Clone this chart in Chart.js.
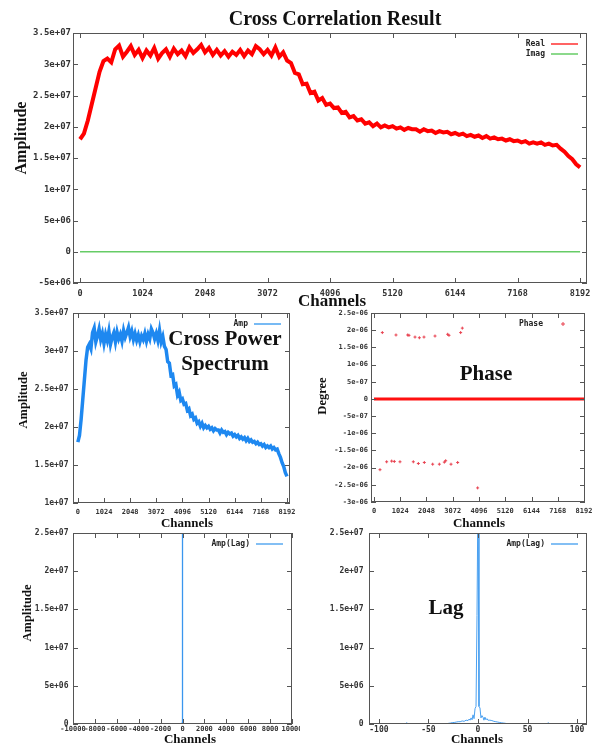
<!DOCTYPE html>
<html>
<head>
<meta charset="utf-8">
<title>Cross Correlation Result</title>
<script src="https://cdn.jsdelivr.net/npm/chart.js@4.4.1/dist/chart.umd.min.js"></script>
<style>
  body { margin: 0; width: 602px; height: 751px; background: #fff; position: relative; overflow: hidden; }
  canvas { position: absolute; }
  .lbl { position: absolute; font-family: "Liberation Serif", "Times New Roman", serif; font-weight: bold; color: #111;
         white-space: nowrap; line-height: 1; transform: translate(-50%, -50%); z-index: 2; }
  .rot { transform: translate(-50%, -50%) rotate(-90deg); }
</style>
</head>
<body>
<canvas id="cc"   width="602" height="300" style="left:0;top:0"></canvas>
<canvas id="cps"  width="300" height="220" style="left:0;top:300px"></canvas>
<canvas id="ph"   width="302" height="220" style="left:300px;top:300px"></canvas>
<canvas id="lagW" width="300" height="231" style="left:0;top:520px"></canvas>
<canvas id="lagN" width="302" height="231" style="left:300px;top:520px"></canvas>

<div class="lbl" style="left:335px;top:18px;font-size:20px">Cross Correlation Result</div>
<div class="lbl rot" style="left:21px;top:138px;font-size:16px">Amplitude</div>
<div class="lbl" style="left:332px;top:300px;font-size:17px">Channels</div>

<div class="lbl rot" style="left:23px;top:400px;font-size:12.5px">Amplitude</div>
<div class="lbl" style="left:187px;top:522px;font-size:13px">Channels</div>
<div class="lbl" style="left:225px;top:338px;font-size:21px">Cross Power</div>
<div class="lbl" style="left:225px;top:363px;font-size:21px">Spectrum</div>

<div class="lbl rot" style="left:322px;top:396px;font-size:12.5px">Degree</div>
<div class="lbl" style="left:479px;top:522px;font-size:13px">Channels</div>
<div class="lbl" style="left:486px;top:373px;font-size:21px">Phase</div>

<div class="lbl rot" style="left:27px;top:613px;font-size:12.5px">Amplitude</div>
<div class="lbl" style="left:190px;top:738px;font-size:13px">Channels</div>

<div class="lbl" style="left:477px;top:738px;font-size:13px">Channels</div>
<div class="lbl" style="left:446px;top:607px;font-size:21px">Lag</div>

<script>
// amplitudes are in units of 1e6, phase in units of 1e-6
const realChannels = [
  0, 64, 128, 192, 256, 320, 384, 448, 512, 576, 640, 704, 768, 832, 896, 960,
  1024, 1088, 1152, 1216, 1280, 1344, 1408, 1472, 1536, 1600, 1664, 1728, 1792, 1856, 1920, 1984,
  2048, 2112, 2176, 2240, 2304, 2368, 2432, 2496, 2560, 2624, 2688, 2752, 2816, 2880, 2944, 3008,
  3072, 3136, 3200, 3264, 3328, 3392, 3456, 3520, 3584, 3648, 3712, 3776, 3840, 3904, 3968, 4032,
  4096, 4160, 4224, 4288, 4352, 4416, 4480, 4544, 4608, 4672, 4736, 4800, 4864, 4928, 4992, 5056,
  5120, 5184, 5248, 5312, 5376, 5440, 5504, 5568, 5632, 5696, 5760, 5824, 5888, 5952, 6016, 6080,
  6144, 6208, 6272, 6336, 6400, 6464, 6528, 6592, 6656, 6720, 6784, 6848, 6912, 6976, 7040, 7104,
  7168, 7232, 7296, 7360, 7424, 7488, 7552, 7616, 7680, 7744, 7808, 7872, 7936, 8000, 8064, 8128,
  8192
];
const realValues = [
  18.0, 18.9, 21.0, 23.6, 26.2, 28.8, 30.5, 30.9, 30.3, 32.4, 33.0, 31.2, 32.0, 32.9, 31.5, 32.3,
  31.0, 32.2, 31.4, 32.6, 30.9, 31.8, 32.4, 31.2, 32.5, 31.6, 32.2, 31.3, 32.7, 31.8, 32.4, 33.1,
  31.9, 32.6, 31.5, 32.3, 31.4, 32.1, 31.2, 32.0, 31.5, 32.3, 31.3, 32.2, 31.6, 32.9, 32.4, 31.6,
  32.3, 31.4, 32.7, 31.2, 31.9, 30.6, 30.2, 28.6, 28.4, 26.8, 26.9, 25.4, 25.6, 24.2, 24.6, 23.5,
  23.7, 23.0, 23.1, 22.2, 22.4, 21.5, 21.7, 21.0, 21.2, 20.5, 20.7, 20.1, 20.5, 19.9, 20.2, 19.9,
  20.1, 19.7, 19.9, 19.5, 19.8, 19.6, 19.6, 19.2, 19.6, 19.3, 19.4, 19.0, 19.3, 19.1, 19.2, 18.8,
  19.0, 18.7, 18.9, 18.5, 18.7, 18.4, 18.6, 18.2, 18.5, 18.1, 18.3, 18.0, 18.1, 17.8, 18.0, 17.7,
  17.8, 17.5, 17.7, 17.3, 17.5, 17.3, 17.5, 17.1, 17.3, 17.0, 17.1, 16.5, 16.0, 15.3, 14.8, 14.0,
  13.5
];
const imagChannels = [0, 8192];
const imagValues = [0, 0];
// imag is zero, so Amp is the same curve as Real
const ampValues = realValues;

const phaseChannels = [234, 325, 494, 689, 793, 858, 1014, 1314, 1365, 1534, 1600, 1730, 1770, 1950,
  1963, 2289, 2380, 2549, 2744, 2796, 2875, 2925, 3004, 3264, 3380, 3445, 4043];
const phaseValues = [-2.06, 1.93, -1.83, -1.81, -1.82, 1.86, -1.83, 1.86, 1.85, -1.83, 1.80, -1.88, 1.78, 1.80,
  -1.85, -1.90, 1.83, -1.90, -1.84, -1.80, 1.88, 1.85, -1.90, -1.85, 1.93, 2.06, -2.59];
const phaseZeroChannels = [0, 8192];
const phaseZeroValues = [0, 0];

const lagChannels = [-74, -72, -70, -50, -32, -30, -28, -26, -24, -22, -20, -18, -16, -14, -12, -10,
  -9, -8, -7, -6, -5, -4, -3, -2, -1, 0, 1, 2, 3, 4, 5, 6, 7, 8, 9, 10,
  12, 14, 16, 18, 20, 22, 24, 26, 28, 30, 32, 50, 69, 71, 73];
const lagValues = [0, 0.15, 0, null, 0.02, 0.08, 0.12, 0.18, 0.2, 0.25, 0.3, 0.3, 0.4, 0.35, 0.5, 0.45,
  0.65, 0.5, 0.8, 0.55, 1.2, 0.7, 2.0, 2.3, 14.2, 31.0, 2.3, 2.1, 0.8, 1.1, 0.9, 0.5, 0.9, 0.55, 0.7, 0.5,
  0.5, 0.45, 0.35, 0.3, 0.25, 0.2, 0.15, 0.12, 0.08, 0.04, 0.02, null, 0, 0.15, 0];

const channelTicks = [0, 1024, 2048, 3072, 4096, 5120, 6144, 7168, 8192];
const lagWideTicks = [-10000, -8000, -6000, -4000, -2000, 0, 2000, 4000, 6000, 8000, 10000];
const lagNarrowTicks = [-100, -50, 0, 50, 100];
const ccAmpTicks = [-5, 0, 5, 10, 15, 20, 25, 30, 35];
const cpsAmpTicks = [10, 15, 20, 25, 30, 35];
const phaseTicks = [-3, -2.5, -2, -1.5, -1, -0.5, 0, 0.5, 1, 1.5, 2, 2.5];
const lagAmpTicks = [0, 5, 10, 15, 20, 25];

const zip = (xs, ys) => xs.map((x, i) => ({ x, y: ys[i] }));

// gnuplot style numbers: 3.5e+07, 5e-07, 0
function gnuFmt(n) {
  if (Math.abs(n) < 1e-15) return '0';
  return Number(n.toPrecision(4)).toExponential().replace(/e([+-])(\d)$/, (m, s, d) => 'e' + s + '0' + d);
}
const mono = size => ({ family: '"DejaVu Sans Mono", monospace', size, weight: 'bold' });

function axes(o) {
  return {
    x: {
      type: 'linear', min: o.xMin, max: o.xMax,
      grid: { display: false, drawTicks: false }, border: { display: false },
      afterBuildTicks: s => { s.ticks = o.xTicks.map(v => ({ value: v })); },
      afterFit: s => { s.height = o.xH; s.paddingLeft = 0; s.paddingRight = 0; },
      ticks: { font: mono(o.xFont), color: '#333', padding: o.xPad, autoSkip: false,
               maxRotation: 0, minRotation: 0, callback: v => String(v) }
    },
    y: {
      type: 'linear', min: o.yMin, max: o.yMax,
      grid: { display: false, drawTicks: false }, border: { display: false },
      afterBuildTicks: s => { s.ticks = o.yTicks.map(v => ({ value: v })); },
      afterFit: s => { s.width = o.yW; s.paddingTop = 0; s.paddingBottom = 0; },
      ticks: { font: mono(o.yFont), color: '#333', padding: o.yPad, autoSkip: false, callback: o.yFmt }
    }
  };
}

// border box with inward mirror ticks, and a key inside the top right corner
const gnuFrame = {
  id: 'gnuFrame',
  afterDatasetsDraw(chart) {
    const { ctx, chartArea: a, scales: { x, y } } = chart;
    ctx.save();
    ctx.strokeStyle = '#555';
    ctx.lineWidth = 1;
    ctx.strokeRect(Math.round(a.left) + 0.5, Math.round(a.top) + 0.5,
                   Math.round(a.width) - 1, Math.round(a.height) - 1);
    ctx.beginPath();
    x.ticks.forEach(t => {
      const px = Math.round(x.getPixelForValue(t.value)) + 0.5;
      ctx.moveTo(px, a.bottom); ctx.lineTo(px, a.bottom - 5);
      ctx.moveTo(px, a.top); ctx.lineTo(px, a.top + 5);
    });
    y.ticks.forEach(t => {
      const py = Math.round(y.getPixelForValue(t.value)) + 0.5;
      ctx.moveTo(a.left, py); ctx.lineTo(a.left + 5, py);
      ctx.moveTo(a.right, py); ctx.lineTo(a.right - 5, py);
    });
    ctx.stroke();

    chart.data.datasets.filter(d => d.label).forEach((d, i) => {
      const yy = a.top + 11 + i * 10;
      ctx.font = 'bold 8px "DejaVu Sans Mono", monospace';
      ctx.fillStyle = '#222';
      ctx.textAlign = 'right';
      ctx.textBaseline = 'middle';
      ctx.fillText(d.label, a.right - 42, yy);
      ctx.strokeStyle = d.keyColor || d.borderColor;
      ctx.beginPath();
      if (d.showLine === false) {
        ctx.lineWidth = 1;
        ctx.moveTo(a.right - 24, yy); ctx.lineTo(a.right - 20, yy);
        ctx.moveTo(a.right - 22, yy - 2); ctx.lineTo(a.right - 22, yy + 2);
      } else {
        ctx.lineWidth = 1.5;
        ctx.moveTo(a.right - 36, yy); ctx.lineTo(a.right - 9, yy);
      }
      ctx.stroke();
    });
    ctx.restore();
  }
};

function makeChart(id, datasets, scales, padding) {
  return new Chart(document.getElementById(id), {
    type: 'line',
    data: { datasets },
    options: {
      responsive: false,
      animation: false,
      layout: { padding },
      elements: { point: { radius: 0 }, line: { tension: 0 } },
      plugins: { legend: { display: false }, tooltip: { enabled: false } },
      scales
    },
    plugins: [gnuFrame]
  });
}

const ampFmt = v => gnuFmt(v * 1e6);
const phaseFmt = v => gnuFmt(v * 1e-6);

makeChart('cc', [
  { label: 'Real', data: zip(realChannels, realValues), borderColor: '#ff0000', borderWidth: 4, keyColor: '#ff3030' },
  { label: 'Imag', data: zip(imagChannels, imagValues), borderColor: '#66cc66', borderWidth: 1.5 }
], axes({ xMin: -115, xMax: 8305, xTicks: channelTicks, xH: 17, xFont: 8.5, xPad: 6,
          yMin: -5, yMax: 35, yTicks: ccAmpTicks, yW: 73, yFont: 9, yPad: 2, yFmt: ampFmt }),
  { left: 0, top: 33, right: 15, bottom: 0 });

makeChart('cps', [
  { label: 'Amp', data: zip(realChannels, ampValues), borderColor: '#1e88f0', borderWidth: 3.5, keyColor: '#4aa3f0' }
], axes({ xMin: -190, xMax: 8310, xTicks: channelTicks, xH: 17, xFont: 7, xPad: 5,
          yMin: 10, yMax: 35, yTicks: cpsAmpTicks, yW: 73, yFont: 8, yPad: 4.5, yFmt: ampFmt }),
  { left: 0, top: 13, right: 10, bottom: 0 });

makeChart('ph', [
  { data: zip(phaseZeroChannels, phaseZeroValues), borderColor: '#ff1010', borderWidth: 3 },
  { label: 'Phase', data: zip(phaseChannels, phaseValues), showLine: false, borderColor: '#e8404f',
    pointStyle: 'cross', pointRadius: 1.5, pointBorderWidth: 1 }
], axes({ xMin: -117, xMax: 8231, xTicks: channelTicks, xH: 18, xFont: 7, xPad: 5,
          yMin: -3, yMax: 2.5, yTicks: phaseTicks, yW: 71, yFont: 7, yPad: 3, yFmt: phaseFmt }),
  { left: 0, top: 13, right: 17, bottom: 0 });

makeChart('lagW', [
  { label: 'Amp(Lag)', data: zip(lagChannels, lagValues), borderColor: '#3a96ee', borderWidth: 1.3, keyColor: '#5aaaf0' }
], axes({ xMin: -10000, xMax: 10000, xTicks: lagWideTicks, xH: 27, xFont: 7, xPad: 1,
          yMin: 0, yMax: 25, yTicks: lagAmpTicks, yW: 73, yFont: 8, yPad: 4.5, yFmt: ampFmt }),
  { left: 0, top: 13, right: 8, bottom: 0 });

makeChart('lagN', [
  { label: 'Amp(Lag)', data: zip(lagChannels, lagValues), borderColor: '#4aa0f0', borderWidth: 1, keyColor: '#5aaaf0' }
], axes({ xMin: -110, xMax: 110, xTicks: lagNarrowTicks, xH: 27, xFont: 8, xPad: 1,
          yMin: 0, yMax: 25, yTicks: lagAmpTicks, yW: 69, yFont: 8, yPad: 5.5, yFmt: ampFmt }),
  { left: 0, top: 13, right: 15, bottom: 0 });
</script>
</body>
</html>
